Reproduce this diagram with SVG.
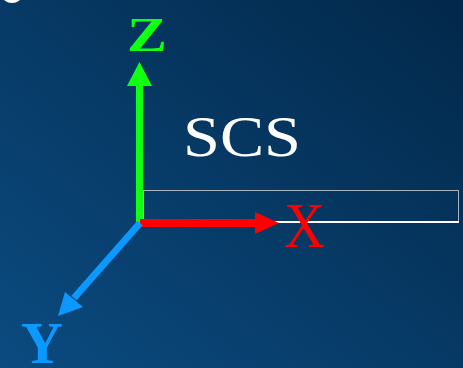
<svg xmlns="http://www.w3.org/2000/svg" width="463" height="368" viewBox="0 0 463 368">
  <defs>
    <linearGradient id="bg" x1="0" y1="1" x2="1" y2="0">
      <stop offset="0" stop-color="#0b4b80"/>
      <stop offset="1" stop-color="#02284a"/>
    </linearGradient>
    <style>
      .lbl { font-family: "Liberation Serif", "Times New Roman", serif; }
    </style>
  </defs>
  <rect x="0" y="0" width="463" height="368" fill="url(#bg)"/>
  <ellipse cx="12" cy="-5" rx="10" ry="8" fill="#ffffff"/>

  <g id="box">
    <rect x="143.5" y="190.5" width="315" height="32" fill="none" stroke="#a9b4bf" stroke-width="1"/>
    <line x1="143" y1="222" x2="459" y2="222" stroke="#ffffff" stroke-width="2"/>
  </g>

  <g id="connectors">
    <g id="z-axis">
      <rect x="136" y="84" width="7" height="139" fill="#11ff11"/>
      <polygon points="127,86 152,86 139.5,62" fill="#11ff11"/>
    </g>
    <g id="x-axis">
      <rect x="140" y="219" width="117" height="8" fill="#ff0000"/>
      <polygon points="255,212 279,223 255,234" fill="#ff0000"/>
    </g>
    <g id="y-axis">
      <line x1="140" y1="223" x2="74" y2="298" stroke="#0b99ff" stroke-width="7"/>
      <polygon points="65,292 83,307 58,316" fill="#0b99ff"/>
    </g>
  </g>

  <g id="label-z"><text class="lbl" x="127" y="51" font-size="48" font-weight="bold" fill="#11ff11" textLength="40" lengthAdjust="spacingAndGlyphs">Z</text></g>
  <g id="label-x"><text class="lbl" x="284" y="247" font-size="63" fill="#ff0000" textLength="41" lengthAdjust="spacingAndGlyphs">X</text></g>
  <g id="label-y"><text class="lbl" x="21" y="363" font-size="60" font-weight="bold" fill="#0b99ff" textLength="42" lengthAdjust="spacingAndGlyphs">Y</text></g>
  <g id="label-scs"><text class="lbl" x="183" y="156" font-size="57" fill="#ffffff" textLength="118" lengthAdjust="spacingAndGlyphs">SCS</text></g>
</svg>
